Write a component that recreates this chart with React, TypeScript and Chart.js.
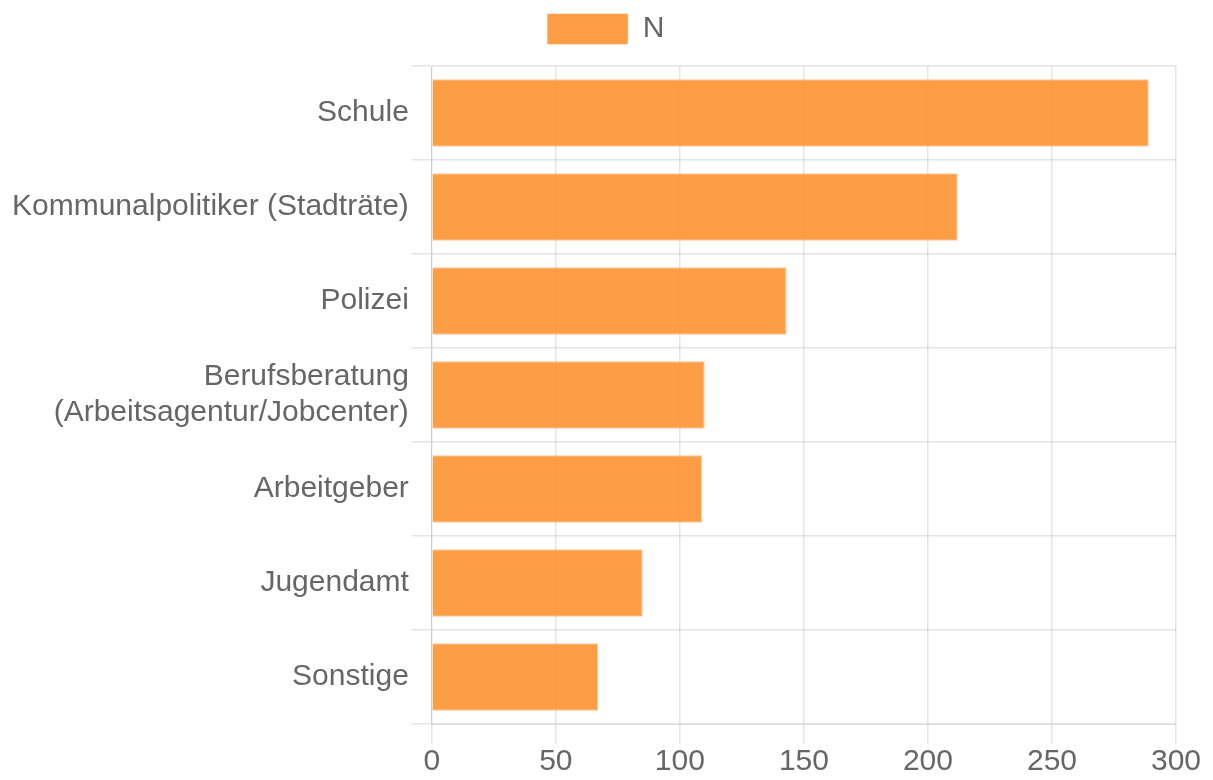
import React, { useEffect, useRef } from "react";
import { Chart, registerables } from "chart.js";

Chart.register(...registerables);

const categories: (string | string[])[] = [
  "Schule",
  "Kommunalpolitiker (Stadträte)",
  "Polizei",
  ["Berufsberatung", "(Arbeitsagentur/Jobcenter)"],
  "Arbeitgeber",
  "Jugendamt",
  "Sonstige",
];
const seriesLabel = "N";
const values = [289, 212, 143, 110, 109, 85, 67];

const FONT = "Arial, 'Liberation Sans', sans-serif";

const legendGap = {
  id: "legendGap",
  beforeLayout(chart: any) {
    const lg = chart.legend;
    if (lg && !lg._gapPatched) {
      const orig = lg.fit;
      lg.fit = function () {
        orig.call(this);
        this.height += 12;
      };
      lg._gapPatched = true;
    }
  },
  afterLayout(chart: any) {
    const lg = chart.legend;
    if (lg) {
      lg.left -= 5;
      lg.right -= 5;
    }
  },
};

export default function App() {
  const ref = useRef<HTMLCanvasElement>(null);
  useEffect(() => {
    if (!ref.current) return;
    const chart = new Chart(ref.current, {
      type: "bar",
      data: {
        labels: categories,
        datasets: [
          {
            label: seriesLabel,
            data: values,
            backgroundColor: "rgba(253,150,55,0.92)",
            borderColor: "rgba(253,160,80,0.6)",
            borderWidth: 1,
          },
        ],
      },
      options: {
        indexAxis: "y",
        responsive: true,
        maintainAspectRatio: false,
        animation: false,
        layout: { padding: { left: 9, right: 0, top: 0, bottom: 0 } },
        plugins: {
          legend: {
            labels: {
              boxWidth: 80,
              boxHeight: 30,
              padding: 14,
              color: "#666",
              font: { size: 30, family: FONT },
            },
          },
          tooltip: { enabled: false },
        },
        scales: {
          x: {
            min: 0,
            max: 300,
            afterFit: (s: any) => {
              s.paddingRight = 37;
            },
            ticks: {
              stepSize: 50,
              color: "#666",
              padding: 0,
              font: { size: 30, family: FONT },
            },
            grid: { color: "rgba(0,0,0,0.1)", tickLength: 20, lineWidth: 1.5 },
          },
          y: {
            ticks: {
              color: "#666",
              padding: 3,
              font: { size: 30, family: FONT },
            },
            grid: { color: "rgba(0,0,0,0.1)", tickLength: 20, lineWidth: 1.5 },
          },
        },
      },
      plugins: [legendGap],
    });
    return () => chart.destroy();
  }, []);
  return (
    <div style={{ position: "fixed", left: 0, top: 0, width: 1213, height: 780 }}>
      <canvas ref={ref} />
    </div>
  );
}
